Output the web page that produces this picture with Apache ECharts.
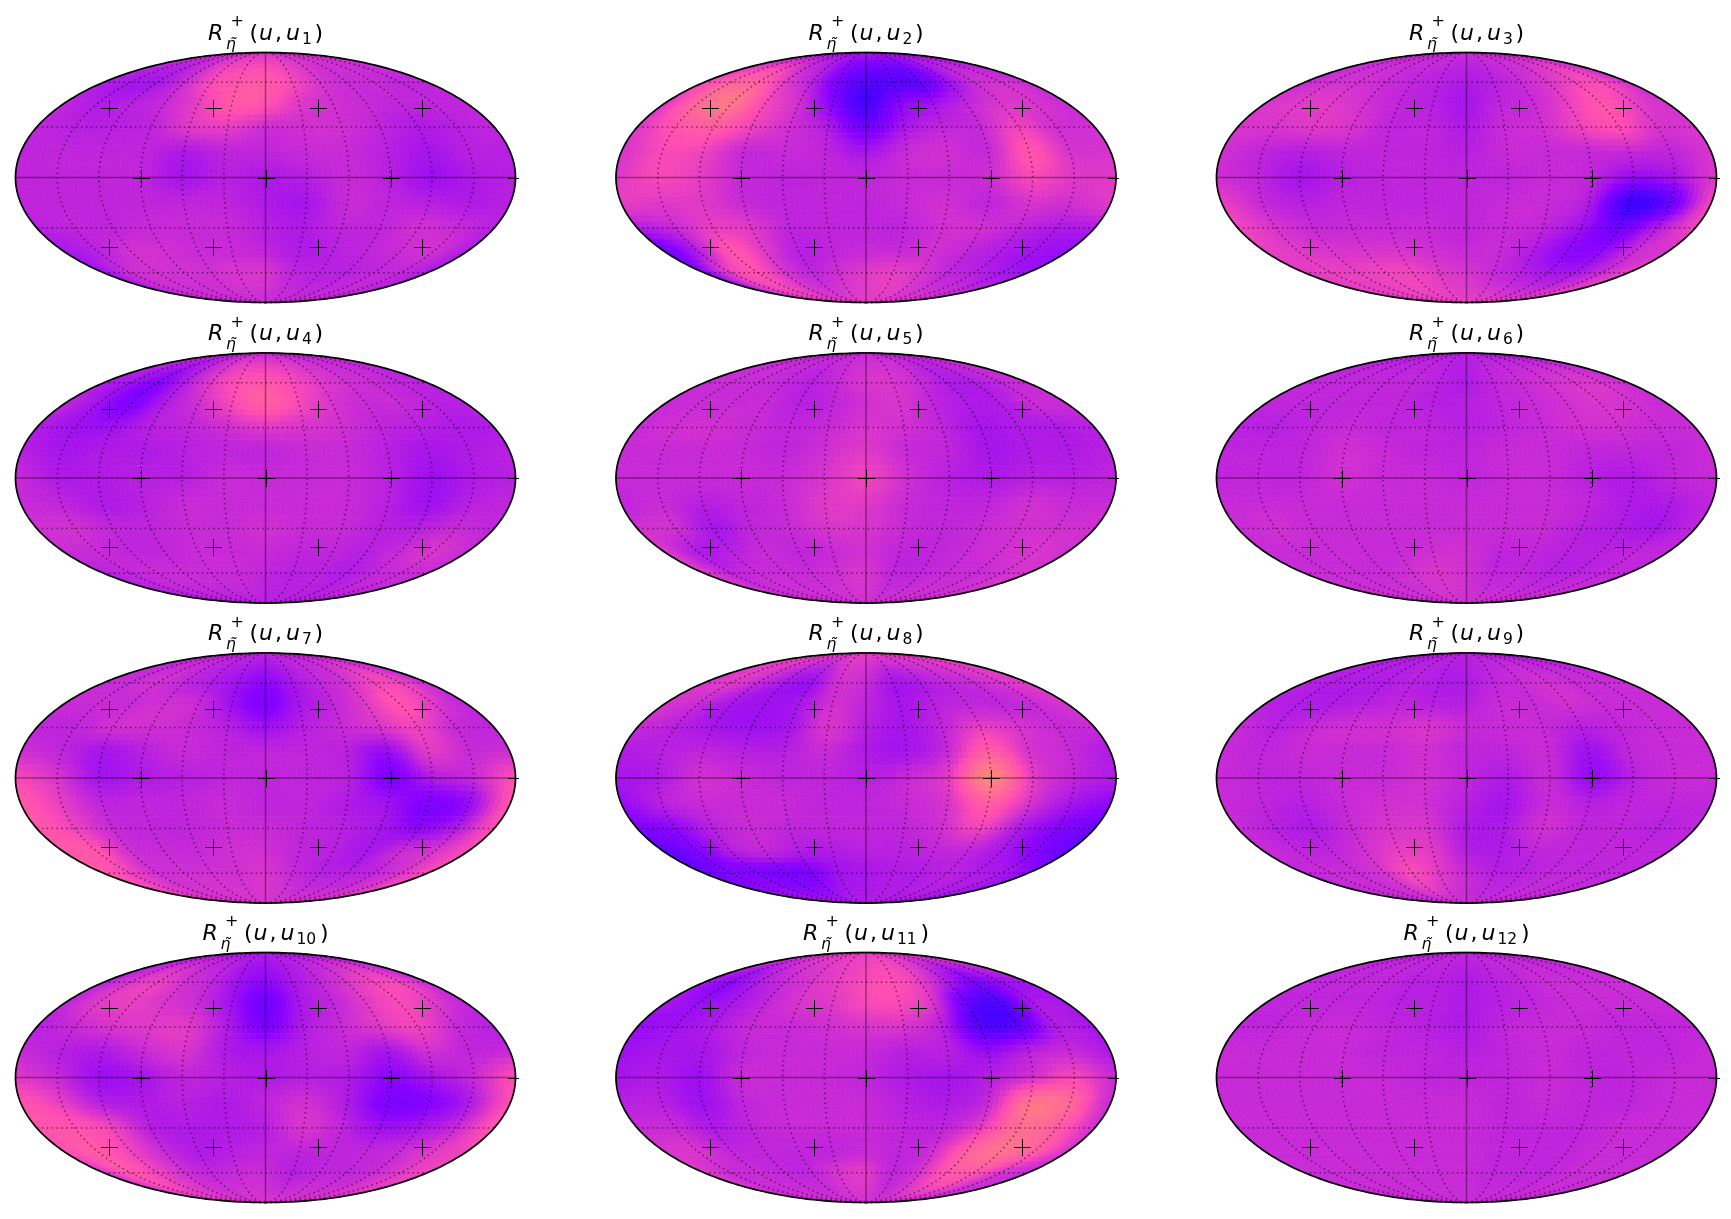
<!DOCTYPE html>
<html>
<head>
<meta charset="utf-8">
<title>R maps</title>
<script src="https://cdn.jsdelivr.net/npm/echarts@6/dist/echarts.min.js"></script>
<style>
html, body { margin: 0; padding: 0; background: #fff; }
#main { width: 1731px; height: 1219px; }
</style>
</head>
<body>
<div id="main"></div>
<script>
// colormap position x100, rows follow rowLats, columns follow colLons
const u1 = [[52],
  [47,46,46,50,56,58,59,56,52,50,50,49,49],
  [49,47,48,50,54,59,58,53,51,50,49,49,49],
  [49,48,48,49,53,54,51,51,51,49,47,48,49],
  [49,49,49,49,47,49,49,50,50,48,46,48,48],
  [49,49,49,49,46,48,47,48,50,48,45,47,48],
  [49,49,49,49,49,49,47,46,50,49,48,47,48],
  [48,49,49,50,50,50,48,47,49,49,51,50,48],
  [46,48,51,51,50,50,49,47,48,49,50,51,47],
  [45,50,51,51,51,52,52,49,48,48,49,49,47],
  [50]]
const u2 = [[46],
  [55,60,60,53,48,40,36,36,37,44,50,51,50],
  [53,62,65,56,51,42,34,42,45,49,52,52,50],
  [53,58,60,55,51,47,39,46,49,50,55,51,51],
  [52,56,55,50,50,49,46,50,51,50,58,52,52],
  [53,56,54,50,49,49,49,50,50,51,56,53,53],
  [54,53,53,50,49,49,49,50,51,49,52,51,53],
  [47,50,54,53,49,49,49,49,51,51,49,47,47],
  [39,47,58,53,48,49,50,50,51,49,47,45,44],
  [42,54,57,52,49,51,53,54,52,49,48,46,45],
  [53]]
const u3 = [[50],
  [50,51,51,50,49,48,47,48,50,52,55,56,51],
  [52,53,53,51,49,48,46,49,50,54,58,54,51],
  [52,52,53,52,49,49,47,50,51,55,57,52,52],
  [51,49,48,49,49,49,48,50,50,50,50,49,52],
  [51,49,46,48,49,49,49,49,50,49,44,46,53],
  [54,50,48,49,49,49,49,50,50,47,33,38,55],
  [55,52,50,50,50,50,49,50,49,45,39,47,55],
  [54,53,52,52,52,51,50,50,47,43,43,50,52],
  [53,54,54,55,55,53,52,50,48,46,46,50,54],
  [54]]
const u4 = [[50],
  [47,45,42,47,53,57,58,56,53,51,50,49,48],
  [49,45,41,47,51,56,60,56,52,50,50,48,48],
  [47,45,45,48,49,51,53,52,51,49,48,47,47],
  [48,46,47,47,48,49,49,50,50,48,46,47,48],
  [50,47,47,48,48,50,50,50,50,48,45,47,48],
  [50,49,47,48,50,50,50,50,50,48,45,48,49],
  [51,51,49,49,50,50,51,50,50,48,48,50,49],
  [50,50,49,49,50,50,50,49,49,48,50,52,50],
  [48,49,50,50,50,50,49,48,48,47,49,50,50],
  [48]]
const u5 = [[50],
  [50,50,50,49,48,50,52,52,50,47,47,49,50],
  [50,50,50,50,48,49,51,52,49,47,47,50,50],
  [50,51,51,50,49,50,52,51,49,46,47,47,48],
  [50,50,50,50,49,51,53,50,49,46,47,47,48],
  [50,50,50,50,50,52,55,51,48,47,48,48,49],
  [49,50,48,49,50,53,53,50,49,49,51,50,50],
  [51,51,46,49,50,52,52,50,49,50,51,51,51],
  [53,47,48,50,49,50,51,49,49,50,51,52,51],
  [53,49,50,50,50,51,52,49,49,50,50,51,52],
  [51]]
const u6 = [[48],
  [49,49,49,49,49,48,47,49,50,51,52,52,50],
  [49,49,49,49,49,48,48,49,50,51,52,51,50],
  [48,48,49,50,49,49,48,49,50,51,51,50,50],
  [49,49,49,51,50,49,49,50,50,49,49,49,50],
  [49,49,49,51,50,50,49,50,50,48,47,49,50],
  [50,50,50,50,50,50,50,50,50,49,47,47,49],
  [50,51,50,50,50,50,50,50,50,48,47,46,49],
  [50,50,50,50,50,51,51,49,49,48,48,49,49],
  [50,50,50,50,51,52,51,49,49,48,48,49,49],
  [51]]
const u7 = [[49],
  [50,50,51,49,47,45,43,46,49,51,55,55,50],
  [50,50,50,51,50,45,41,46,49,53,58,53,49],
  [49,49,51,51,50,48,45,48,50,52,55,50,49],
  [51,49,46,48,50,49,49,49,48,44,53,50,51],
  [56,52,46,47,48,49,49,49,48,41,47,50,57],
  [59,54,49,49,49,50,49,49,47,45,41,44,58],
  [59,55,50,49,49,50,50,49,48,46,43,47,57],
  [59,58,51,50,50,51,51,49,48,46,50,52,56],
  [59,55,51,51,51,51,52,50,48,48,49,52,56],
  [52]]
const u8 = [[54],
  [52,53,50,46,45,51,50,46,47,49,50,52,53],
  [52,50,46,45,46,51,49,46,48,49,49,50,52],
  [50,48,46,45,46,52,48,46,49,54,52,50,50],
  [47,48,49,48,48,50,47,46,50,60,52,50,47],
  [46,47,51,50,49,49,48,50,54,68,54,49,47],
  [44,48,50,50,50,49,49,50,52,60,52,46,43],
  [41,43,48,50,49,49,49,49,51,55,47,42,39],
  [37,41,47,49,47,47,48,48,49,49,46,42,38],
  [38,41,41,40,41,45,46,47,47,48,47,46,43],
  [47]]
const u9 = [[48],
  [48,47,47,47,48,47,47,49,50,51,50,50,50],
  [48,47,47,48,49,48,48,50,50,51,50,50,50],
  [50,48,50,51,51,52,50,50,50,48,49,50,50],
  [50,49,50,50,50,51,49,49,50,45,49,50,50],
  [50,49,49,50,50,51,49,47,50,44,48,50,50],
  [50,49,48,50,51,51,48,46,50,48,49,49,49],
  [50,48,47,50,52,52,47,47,51,49,49,48,49],
  [50,49,49,51,54,53,48,47,49,49,49,49,49],
  [49,50,50,52,56,53,50,48,48,49,49,49,49],
  [50]]
const u10 = [[47],
  [48,52,54,51,49,45,43,46,49,52,55,55,50],
  [49,53,54,52,50,45,39,46,49,53,56,53,49],
  [48,50,52,53,53,47,41,47,50,53,55,50,48],
  [50,48,47,50,52,47,46,48,49,46,51,49,50],
  [53,50,45,46,49,48,47,48,47,43,46,50,57],
  [58,54,48,47,48,47,49,51,47,41,42,47,57],
  [58,58,55,48,47,47,48,52,49,45,46,50,58],
  [57,59,55,50,47,48,49,49,49,49,50,53,55],
  [52,58,55,51,49,50,50,48,49,49,50,53,55],
  [52]]
const u11 = [[54],
  [46,43,47,50,52,54,56,57,54,47,41,44,46],
  [46,44,46,49,52,53,56,56,52,38,35,46,46],
  [44,45,47,50,50,51,52,52,48,36,37,47,46],
  [45,46,46,49,50,50,50,48,48,44,48,50,47],
  [46,47,45,50,50,50,49,47,46,48,52,56,50],
  [48,48,45,49,50,50,50,48,47,50,64,62,50],
  [50,50,47,49,50,50,50,49,49,54,63,60,51],
  [52,52,49,49,49,49,50,49,51,60,64,60,52],
  [53,50,50,49,49,52,53,49,52,58,58,52,50],
  [51]]
const u12 = [[49],
  [49,49,49,49,48,48,47,48,49,50,50,50,50],
  [49,49,49,49,48,48,47,48,49,50,50,50,50],
  [49,49,50,50,49,48,47,49,50,50,49,49,49],
  [50,50,50,50,49,49,48,49,50,49,49,49,50],
  [50,50,50,50,50,49,49,49,50,49,49,50,50],
  [50,50,50,50,50,50,50,49,50,49,49,50,50],
  [50,50,50,50,50,50,50,49,49,49,50,50,50],
  [50,50,50,50,50,50,50,49,49,49,50,50,50],
  [50,50,50,50,50,50,50,49,49,49,50,50,50],
  [50]]
const panels = [u1, u2, u3, u4, u5, u6, u7, u8, u9, u10, u11, u12]
const rowLats = [90, 60, 45, 30, 15, 0, -15, -30, -45, -60, -90]
const colLons = [-180, -150, -120, -90, -60, -30, 0, 30, 60, 90, 120, 150, 180]
const meridianLons = [-150, -120, -90, -60, -30, 30, 60, 90, 120, 150]
const parallelLats = [-60, -30, 30, 60]
// crosses
const markerLons = [-135, -45, 45, 135, -90, 0, 90, 180, -135, -45, 45, 135]
const markerLats = [41.81, 41.81, 41.81, 41.81, 0, 0, 0, 0, -41.81, -41.81, -41.81, -41.81]
const subLabels = ['1', '2', '3', '4', '5', '6', '7', '8', '9', '10', '11', '12']

const centersX = [265.5, 866, 1466.5]
const centersY = [177.5, 478, 778, 1077.5]
const halfW = 250
const pad = 1.012 // room for the cross at lon 180 to stick out
const SQ2 = Math.SQRT2
const lastRow = rowLats.length - 1

function solveTheta(lat) {
  if (Math.abs(lat) >= 90) return lat > 0 ? Math.PI / 2 : -Math.PI / 2
  let phi = lat * Math.PI / 180
  let t = phi
  for (let i = 0; i < 40; i++) {
    let d = 2 + 2 * Math.cos(2 * t)
    if (d < 1e-6) break
    t -= (2 * t + Math.sin(2 * t) - Math.PI * Math.sin(phi)) / d
  }
  return t
}
function projTheta(lon, t) {
  return [2 * SQ2 / Math.PI * (lon * Math.PI / 180) * Math.cos(t), SQ2 * Math.sin(t)]
}
function proj(lon, lat) {
  return projTheta(lon, solveTheta(lat))
}

// matplotlib gnuplot2
function gnuplot2(x) {
  let c = v => Math.round(Math.max(0, Math.min(1, v)) * 255)
  let b = x < 0.25 ? 4 * x : x < 0.42 ? 1 : x < 0.92 ? -2 * x + 1.84 : x / 0.08 - 11.5
  return 'rgb(' + c(x / 0.32 - 0.78125) + ',' + c(2 * x - 0.84) + ',' + c(b) + ')'
}

function cr(a, b, c, d, t) {
  return b + 0.5 * t * (c - a + t * (2 * a - 5 * b + 4 * c - d + t * (3 * (b - c) + d - a)))
}
function nodeVal(rows, r, c) {
  r = Math.max(0, Math.min(lastRow, r))
  c = Math.max(0, Math.min(12, c))
  return rows[r].length === 1 ? rows[r][0] : rows[r][c]
}
// shading inside a cell, like a gouraud mesh
function shade(rows, lon, lat) {
  let fc = (lon + 180) / 30
  let c0 = Math.min(11, Math.floor(fc)), tc = fc - c0
  let r0 = 0
  while (r0 < lastRow - 1 && lat < rowLats[r0 + 1]) r0++
  let tr = (rowLats[r0] - lat) / (rowLats[r0] - rowLats[r0 + 1])
  let vals = []
  for (let r = r0 - 1; r <= r0 + 2; r++) {
    vals.push(cr(nodeVal(rows, r, c0 - 1), nodeVal(rows, r, c0), nodeVal(rows, r, c0 + 1), nodeVal(rows, r, c0 + 2), tc))
  }
  return cr(vals[0], vals[1], vals[2], vals[3], tr)
}

const STEP = 3.75
function heatItem(rows) {
  return function (params, api) {
    let lon0 = colLons[api.value(0)], r = api.value(1)
    let top = rowLats[r], bottom = rowLats[r + 1]
    let children = []
    for (let a = lon0; a < lon0 + 30; a += STEP) {
      for (let b = top; b > bottom; b -= STEP) {
        let pts = [[a, b], [a + STEP, b], [a + STEP, b - STEP], [a, b - STEP]].map(p => api.coord(proj(p[0], p[1])))
        let col = gnuplot2(shade(rows, a + STEP / 2, b - STEP / 2) / 100)
        children.push({ type: 'polygon', shape: { points: pts }, style: { fill: col, stroke: col, lineWidth: 0.7 } })
      }
    }
    return { type: 'group', children: children }
  }
}

function lineItem(params, api) {
  let kind = api.value(0), v = api.value(1)
  let pts = []
  if (kind === 0 || kind === 2) {
    for (let d = -90; d <= 90; d += 2) pts.push(api.coord(projTheta(v, d * Math.PI / 180)))
  } else {
    pts = [api.coord(proj(-180, v)), api.coord(proj(180, v))]
  }
  let solid = kind >= 2
  return {
    type: 'polyline',
    shape: { points: pts },
    style: {
      fill: 'none',
      stroke: solid ? 'rgba(0,0,0,0.38)' : 'rgba(0,0,0,0.48)',
      lineWidth: solid ? 1.5 : 1.6,
      lineDash: solid ? null : [1.6, 3.3]
    }
  }
}

function markerItem(params, api) {
  let lon = api.value(0)
  let p = api.coord(proj(lon, api.value(1)))
  let x = Math.round(p[0]) + 0.5, y = Math.round(p[1]) + 0.5, s = 8.5
  let st = { stroke: '#000', lineWidth: 1, fill: 'none' }
  let kids = [{ type: 'line', shape: { x1: x - s, y1: y, x2: x + s, y2: y }, style: st }]
  // the upright stroke at the rim is lost under the frame
  if (lon !== 180) kids.push({ type: 'line', shape: { x1: x, y1: y - s, x2: x, y2: y + s }, style: st })
  return { type: 'group', children: kids }
}

function frameItem(params, api) {
  let pts = []
  for (let d = -90; d <= 90; d++) pts.push(api.coord(projTheta(180, d * Math.PI / 180)))
  for (let d = 90; d >= -90; d--) pts.push(api.coord(projTheta(-180, d * Math.PI / 180)))
  return { type: 'polygon', shape: { points: pts }, style: { fill: 'none', stroke: '#000', lineWidth: 1.7 } }
}

const grids = [], xAxes = [], yAxes = [], series = [], graphics = []
const xRange = 2 * SQ2 * pad, yRange = SQ2 * pad

function addTitle(cx, cy, label) {
  let font = '"DejaVu Sans", sans-serif'
  let extra = (label.length - 1) * 5.6
  let left = cx - 57.5 - extra
  let base = cy - 137
  let put = (text, dx, dy, size, italic) => graphics.push({
    type: 'text',
    x: left + dx,
    y: base + dy,
    silent: true,
    style: {
      text: text, fill: '#000', fontFamily: font, fontSize: size,
      fontStyle: italic ? 'italic' : 'normal', textVerticalAlign: 'bottom'
    }
  })
  put('R', 0, 4.5, 22, true)
  put('+', 22.5, -10.5, 16, false)
  put('η̃', 18, 12, 15.5, true)
  put('(', 41.5, 4.5, 22, false)
  put('u', 51, 4.5, 22, true)
  put(',', 67, 4.5, 22, false)
  put('u', 78, 4.5, 22, true)
  put(label, 94, 7, 15.5, false)
  put(')', 106.5 + extra * 2, 4.5, 22, false)
}

panels.forEach(function (rows, p) {
  let cx = centersX[p % 3], cy = centersY[Math.floor(p / 3)]
  let w = halfW * pad, h = halfW / 2 * pad
  grids.push({ left: cx - w, top: cy - h, width: 2 * w, height: 2 * h, show: false })
  xAxes.push({ type: 'value', gridIndex: p, min: -xRange, max: xRange, show: false })
  yAxes.push({ type: 'value', gridIndex: p, min: -yRange, max: yRange, show: false })

  let cells = []
  for (let c = 0; c < 12; c++) {
    for (let r = 0; r < lastRow; r++) cells.push([c, r, nodeVal(rows, r, c)])
  }
  let lines = meridianLons.map(v => [0, v]).concat(parallelLats.map(v => [1, v]), [[2, 0], [3, 0]])
  let marks = markerLons.map((v, i) => [v, markerLats[i]])
  let common = { type: 'custom', xAxisIndex: p, yAxisIndex: p, silent: true, animation: false, progressive: 0 }

  series.push(Object.assign({}, common, { renderItem: heatItem(rows), data: cells, clip: false, encode: { x: 0, y: 1 }, z: 1 }))
  series.push(Object.assign({}, common, { renderItem: lineItem, data: lines, clip: false, encode: { x: 1, y: 1 }, z: 2 }))
  series.push(Object.assign({}, common, { renderItem: markerItem, data: marks, clip: true, encode: { x: 0, y: 1 }, z: 3 }))
  series.push(Object.assign({}, common, { renderItem: frameItem, data: [[0, 0]], clip: false, encode: { x: 0, y: 1 }, z: 4 }))

  addTitle(cx, cy, subLabels[p])
})

let myChart = echarts.init(document.getElementById('main'), null, { renderer: 'canvas' })
myChart.setOption({
  animation: false,
  backgroundColor: '#fff',
  grid: grids,
  xAxis: xAxes,
  yAxis: yAxes,
  graphic: graphics,
  series: series
})
</script>
</body>
</html>
